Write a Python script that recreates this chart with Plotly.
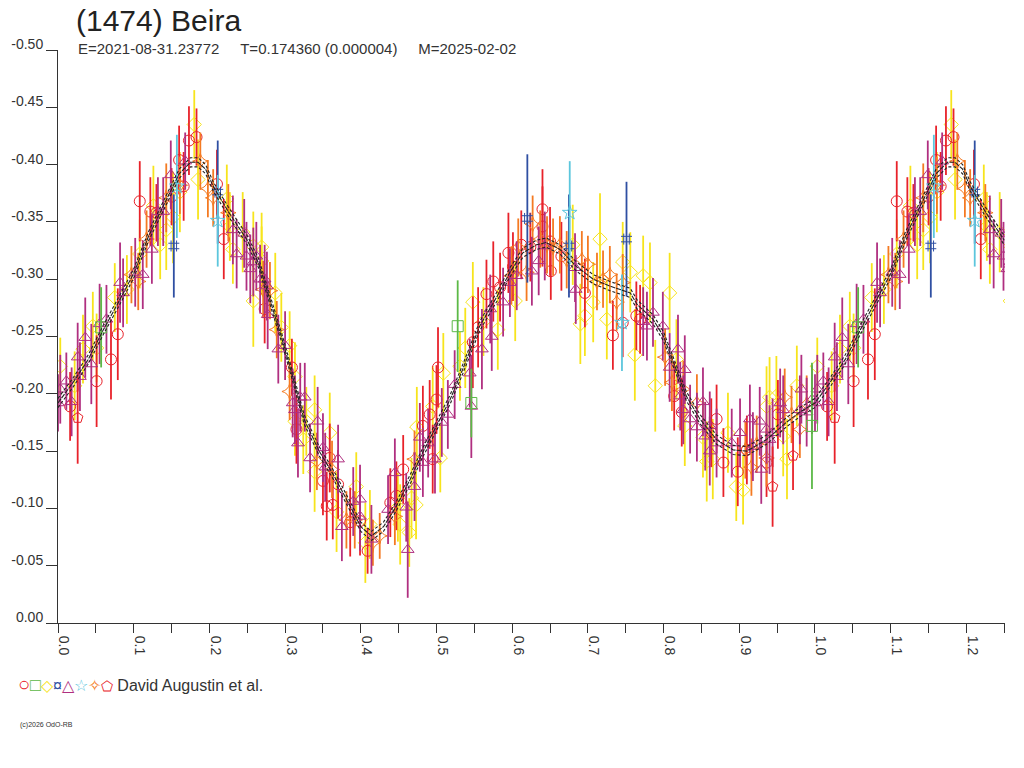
import plotly.graph_objects as go

# curva ajustada (fase, magnitude) e meia largura da banda tracejada
curve_phase = [0.0, 0.02, 0.04, 0.06, 0.08, 0.10, 0.12, 0.14, 0.16, 0.175, 0.185, 0.195, 0.205, 0.225,
               0.25, 0.265, 0.28, 0.295, 0.31, 0.325, 0.345, 0.365, 0.385, 0.40, 0.414, 0.43, 0.447,
               0.465, 0.482, 0.50, 0.518, 0.535, 0.557, 0.58, 0.597, 0.614, 0.632, 0.645, 0.663, 0.685,
               0.707, 0.729, 0.756, 0.765, 0.786, 0.80, 0.813, 0.83, 0.848, 0.87, 0.892, 0.91, 0.936,
               0.962, 0.98, 1.0]
curve_mag = [-0.192, -0.210, -0.230, -0.256, -0.280, -0.305, -0.338, -0.365, -0.392, -0.402, -0.402,
             -0.396, -0.381, -0.359, -0.334, -0.314, -0.283, -0.250, -0.215, -0.178, -0.150, -0.128,
             -0.103, -0.084, -0.076, -0.084, -0.102, -0.125, -0.149, -0.172, -0.195, -0.222, -0.259,
             -0.285, -0.306, -0.323, -0.330, -0.332, -0.326, -0.311, -0.300, -0.294, -0.288, -0.278,
             -0.265, -0.250, -0.227, -0.198, -0.178, -0.160, -0.151, -0.150, -0.160, -0.175, -0.184,
             -0.192]
curve_sigma = 0.004

# circulos vermelhos
red_phase = [0.016, 0.051, 0.070, 0.079, 0.108, 0.122, 0.130, 0.150, 0.160, 0.166, 0.173, 0.183, 0.210,
             0.219, 0.273, 0.309, 0.315, 0.350, 0.355, 0.359, 0.363, 0.370, 0.386, 0.399, 0.409, 0.439,
             0.447, 0.456, 0.482, 0.491, 0.495, 0.500, 0.502, 0.548, 0.555, 0.566, 0.575, 0.584, 0.595,
             0.601, 0.612, 0.624, 0.640, 0.640, 0.650, 0.651, 0.665, 0.696, 0.733, 0.746, 0.764, 0.769,
             0.814, 0.824, 0.863, 0.870, 0.879, 0.898, 0.910, 0.936, 0.951]
red_mag = [-0.189, -0.211, -0.230, -0.252, -0.368, -0.359, -0.358, -0.372, -0.404, -0.381, -0.421, -0.424,
           -0.383, -0.335, -0.274, -0.223, -0.169, -0.124, -0.102, -0.144, -0.103, -0.121, -0.088, -0.089,
           -0.063, -0.105, -0.111, -0.134, -0.172, -0.182, -0.143, -0.195, -0.223, -0.245, -0.258, -0.287,
           -0.298, -0.293, -0.323, -0.311, -0.330, -0.328, -0.361, -0.346, -0.333, -0.307, -0.320, -0.288,
           -0.251, -0.262, -0.268, -0.265, -0.198, -0.184, -0.166, -0.178, -0.140, -0.132, -0.151, -0.140,
           -0.182]
red_err = [0.030, 0.040, 0.035, 0.040, 0.035, 0.030, 0.025, 0.025, 0.030, 0.030, 0.030, 0.025, 0.030,
           0.035, 0.030, 0.025, 0.030, 0.030, 0.030, 0.030, 0.030, 0.030, 0.030, 0.030, 0.020, 0.030,
           0.030, 0.030, 0.035, 0.030, 0.030, 0.030, 0.035, 0.040, 0.035, 0.030, 0.035, 0.030, 0.035,
           0.030, 0.030, 0.030, 0.035, 0.035, 0.030, 0.025, 0.030, 0.030, 0.030, 0.030, 0.030, 0.030,
           0.030, 0.030, 0.030, 0.030, 0.030, 0.030, 0.030, 0.030, 0.030]

# quadrados verdes
green_phase = [0.057, 0.528, 0.546, 0.996]
green_mag = [-0.258, -0.259, -0.192, -0.172]
green_err = [0.035, 0.040, 0.030, 0.055]

# losangos amarelos
yellow_phase = [0.003, 0.022, 0.033, 0.046, 0.051, 0.075, 0.091, 0.108, 0.126, 0.135, 0.143, 0.152, 0.161,
                0.180, 0.185, 0.223, 0.227, 0.231, 0.244, 0.258, 0.258, 0.269, 0.269, 0.287, 0.295, 0.306,
                0.313, 0.313, 0.324, 0.328, 0.339, 0.339, 0.359, 0.368, 0.394, 0.406, 0.412, 0.449, 0.452,
                0.464, 0.467, 0.473, 0.474, 0.495, 0.505, 0.509, 0.531, 0.538, 0.548, 0.562, 0.581, 0.604,
                0.680, 0.690, 0.696, 0.707, 0.716, 0.725, 0.746, 0.756, 0.762, 0.773, 0.782, 0.789, 0.808,
                0.817, 0.828, 0.852, 0.857, 0.865, 0.885, 0.896, 0.905, 0.936, 0.940, 0.949, 0.958, 0.963,
                0.976]
yellow_mag = [-0.224, -0.207, -0.239, -0.259, -0.240, -0.284, -0.291, -0.322, -0.364, -0.330, -0.343,
              -0.354, -0.376, -0.435, -0.387, -0.370, -0.346, -0.326, -0.341, -0.329, -0.281, -0.328,
              -0.316, -0.288, -0.258, -0.242, -0.215, -0.176, -0.160, -0.176, -0.186, -0.132, -0.166,
              -0.097, -0.119, -0.070, -0.086, -0.101, -0.086, -0.079, -0.109, -0.103, -0.171, -0.189,
              -0.144, -0.218, -0.224, -0.240, -0.280, -0.263, -0.256, -0.281, -0.330, -0.261, -0.268,
              -0.280, -0.335, -0.265, -0.315, -0.306, -0.234, -0.303, -0.297, -0.207, -0.288, -0.230,
              -0.172, -0.162, -0.141, -0.143, -0.166, -0.119, -0.116, -0.189, -0.197, -0.198, -0.163,
              -0.143, -0.207]
yellow_err = [0.025, 0.030, 0.030, 0.030, 0.030, 0.030, 0.030, 0.030, 0.035, 0.030, 0.035, 0.040, 0.035,
              0.030, 0.035, 0.030, 0.030, 0.030, 0.035, 0.030, 0.040, 0.030, 0.030, 0.035, 0.030, 0.030,
              0.030, 0.030, 0.030, 0.030, 0.030, 0.035, 0.035, 0.035, 0.030, 0.035, 0.030, 0.030, 0.035,
              0.030, 0.035, 0.030, 0.035, 0.035, 0.030, 0.035, 0.030, 0.035, 0.035, 0.030, 0.035, 0.035,
              0.035, 0.035, 0.035, 0.035, 0.040, 0.035, 0.035, 0.035, 0.040, 0.035, 0.035, 0.040, 0.035,
              0.035, 0.035, 0.035, 0.035, 0.035, 0.035, 0.030, 0.030, 0.035, 0.035, 0.035, 0.035, 0.035,
              0.035]

# "hash" azul
blue_phase = [0.153, 0.211, 0.620, 0.675, 0.751]
blue_mag = [-0.329, -0.376, -0.353, -0.329, -0.335]
blue_err = [0.045, 0.045, 0.056, 0.045, 0.050]

# triangulos roxos
purple_phase = [0.000, 0.003, 0.011, 0.018, 0.026, 0.029, 0.036, 0.044, 0.055, 0.064, 0.082, 0.086, 0.102,
                0.112, 0.124, 0.132, 0.139, 0.149, 0.168, 0.231, 0.236, 0.246, 0.249, 0.254, 0.258, 0.262,
                0.267, 0.273, 0.276, 0.277, 0.291, 0.300, 0.310, 0.313, 0.317, 0.320, 0.326, 0.333, 0.343,
                0.350, 0.353, 0.370, 0.375, 0.390, 0.399, 0.399, 0.414, 0.436, 0.445, 0.460, 0.462, 0.471,
                0.478, 0.482, 0.489, 0.498, 0.507, 0.515, 0.524, 0.544, 0.546, 0.560, 0.571, 0.573, 0.588,
                0.597, 0.606, 0.626, 0.635, 0.643, 0.683, 0.684, 0.773, 0.778, 0.786, 0.799, 0.808, 0.819,
                0.822, 0.826, 0.828, 0.835, 0.844, 0.852, 0.855, 0.861, 0.861, 0.870, 0.890, 0.901, 0.914,
                0.918, 0.927, 0.929, 0.936, 0.940, 0.944, 0.954, 0.958, 0.980, 0.982, 0.989, 0.996]
purple_mag = [-0.192, -0.204, -0.211, -0.193, -0.232, -0.215, -0.249, -0.226, -0.261, -0.265, -0.297,
              -0.288, -0.306, -0.304, -0.326, -0.359, -0.359, -0.391, -0.403, -0.343, -0.322, -0.340,
              -0.320, -0.309, -0.315, -0.320, -0.300, -0.300, -0.294, -0.269, -0.239, -0.242, -0.192,
              -0.186, -0.157, -0.197, -0.197, -0.144, -0.176, -0.153, -0.136, -0.143, -0.084, -0.106,
              -0.108, -0.093, -0.073, -0.099, -0.131, -0.101, -0.064, -0.119, -0.162, -0.140, -0.157,
              -0.143, -0.175, -0.182, -0.208, -0.218, -0.189, -0.239, -0.274, -0.250, -0.280, -0.297,
              -0.303, -0.307, -0.316, -0.329, -0.310, -0.291, -0.263, -0.259, -0.271, -0.259, -0.223,
              -0.239, -0.198, -0.186, -0.221, -0.178, -0.171, -0.193, -0.163, -0.172, -0.150, -0.157,
              -0.157, -0.166, -0.178, -0.154, -0.176, -0.134, -0.169, -0.160, -0.166, -0.192, -0.186,
              -0.186, -0.204, -0.184, -0.195]
purple_err = [0.025, 0.030, 0.025, 0.030, 0.030, 0.030, 0.035, 0.035, 0.035, 0.030, 0.035, 0.030, 0.030,
              0.030, 0.030, 0.030, 0.030, 0.030, 0.025, 0.030, 0.030, 0.030, 0.030, 0.030, 0.030, 0.030,
              0.030, 0.030, 0.030, 0.030, 0.030, 0.030, 0.030, 0.030, 0.030, 0.030, 0.030, 0.030, 0.030,
              0.030, 0.030, 0.030, 0.030, 0.030, 0.030, 0.030, 0.030, 0.030, 0.030, 0.030, 0.042, 0.030,
              0.030, 0.030, 0.030, 0.030, 0.030, 0.030, 0.030, 0.030, 0.045, 0.035, 0.030, 0.030, 0.030,
              0.030, 0.030, 0.030, 0.030, 0.030, 0.030, 0.030, 0.030, 0.030, 0.030, 0.030, 0.030, 0.030,
              0.030, 0.030, 0.030, 0.030, 0.030, 0.030, 0.030, 0.030, 0.030, 0.030, 0.030, 0.030, 0.030,
              0.030, 0.030, 0.030, 0.030, 0.030, 0.030, 0.030, 0.030, 0.030, 0.030, 0.030, 0.030]

# estrelas ciano
cyan_phase = [0.157, 0.211, 0.676, 0.745]
cyan_mag = [-0.381, -0.351, -0.358, -0.262]
cyan_err = [0.045, 0.040, 0.045, 0.042]

# estrelas laranja de 4 pontas
orange_phase = [0.097, 0.106, 0.117, 0.143, 0.161, 0.188, 0.198, 0.205, 0.225, 0.271, 0.280, 0.289, 0.306,
                0.342, 0.362, 0.381, 0.392, 0.416, 0.425, 0.445, 0.471, 0.599, 0.608, 0.619, 0.627, 0.637,
                0.646, 0.654, 0.663, 0.672, 0.692, 0.700, 0.712, 0.720, 0.729, 0.738, 0.746, 0.802, 0.811,
                0.826, 0.844, 0.908, 0.916, 0.923, 0.936, 0.960, 0.969, 0.980, 0.989]
orange_mag = [-0.304, -0.298, -0.335, -0.371, -0.382, -0.403, -0.379, -0.371, -0.358, -0.291, -0.290,
              -0.256, -0.202, -0.141, -0.134, -0.090, -0.090, -0.070, -0.076, -0.093, -0.143, -0.303,
              -0.328, -0.306, -0.348, -0.335, -0.330, -0.328, -0.330, -0.317, -0.317, -0.313, -0.298,
              -0.300, -0.304, -0.280, -0.297, -0.232, -0.210, -0.204, -0.192, -0.151, -0.136, -0.156,
              -0.144, -0.197, -0.182, -0.169, -0.191]
orange_err = [0.025, 0.025, 0.025, 0.030, 0.025, 0.025, 0.025, 0.025, 0.025, 0.025, 0.025, 0.025, 0.025,
              0.025, 0.025, 0.025, 0.025, 0.020, 0.020, 0.025, 0.025, 0.025, 0.025, 0.025, 0.025, 0.025,
              0.025, 0.025, 0.025, 0.025, 0.025, 0.025, 0.025, 0.025, 0.025, 0.025, 0.025, 0.025, 0.025,
              0.025, 0.025, 0.025, 0.025, 0.025, 0.025, 0.025, 0.025, 0.025, 0.025]

# pentagonos vermelhos
pent_phase = [0.026, 0.944, 0.971]
pent_mag = [-0.179, -0.119, -0.146]
pent_err = [0.040, 0.035, 0.030]

y_tick_vals = [-0.50, -0.45, -0.40, -0.35, -0.30, -0.25, -0.20, -0.15, -0.10, -0.05, 0.00]
y_tick_text = ["-0.50", "-0.45", "-0.40", "-0.35", "-0.30", "-0.25", "-0.20", "-0.15", "-0.10", "-0.05", "0.00"]

PHASE_MAX = 1.251  # o grafico repete o comeco da curva depois da fase 1


def wrap(phase, mag, err=None):
    # repete os pontos do inicio da fase depois de 1.0
    idx = [i for i, p in enumerate(phase) if p + 1 <= PHASE_MAX + 0.01]
    x = list(phase) + [phase[i] + 1 for i in idx]
    y = list(mag) + [mag[i] for i in idx]
    if err is None:
        return x, y
    e = list(err) + [err[i] for i in idx]
    return x, y, e


fig = go.Figure()

series = [
    (yellow_phase, yellow_mag, yellow_err, "diamond-open", "#F7E41C"),
    (red_phase, red_mag, red_err, "circle-open", "#E8222A"),
    (orange_phase, orange_mag, orange_err, "star-diamond-open", "#F47A22"),
    (purple_phase, purple_mag, purple_err, "triangle-up-open", "#B02F80"),
    (green_phase, green_mag, green_err, "square-open", "#5CB947"),
    (blue_phase, blue_mag, blue_err, "hash-open", "#2F4FA2"),
    (cyan_phase, cyan_mag, cyan_err, "star-open", "#5CC6DD"),
    (pent_phase, pent_mag, pent_err, "pentagon-open", "#E8222A"),
]

for ph, mg, er, sym, col in series:
    x, y, e = wrap(ph, mg, er)
    fig.add_trace(go.Scatter(
        x=x, y=y, mode="markers",
        marker=dict(symbol=sym, size=11, color=col, line=dict(width=1, color=col)),
        error_y=dict(type="data", array=e, color=col, thickness=1.8, width=0),
        showlegend=False, hoverinfo="skip",
    ))

cx, cy = wrap(curve_phase, curve_mag)
fig.add_trace(go.Scatter(x=cx, y=[v - curve_sigma for v in cy], mode="lines",
                         line=dict(color="#222222", width=1.1, dash="3px,2px"), showlegend=False))
fig.add_trace(go.Scatter(x=cx, y=[v + curve_sigma for v in cy], mode="lines",
                         line=dict(color="#222222", width=1.1, dash="3px,2px"), showlegend=False))
fig.add_trace(go.Scatter(x=cx, y=cy, mode="lines",
                         line=dict(color="#222222", width=1.1, dash="5px,1px"), showlegend=False))

fonte = "Liberation Sans, Arial, sans-serif"

fig.update_layout(
    width=1024, height=768,
    margin=dict(l=58, r=19, t=50, b=145),
    paper_bgcolor="white", plot_bgcolor="white",
    font=dict(family=fonte, color="#333333"),
    title=dict(text="(1474) Beira", x=76 / 1024, xanchor="left", y=1 - 20 / 768, yanchor="middle",
               font=dict(size=30, color="#222222", family=fonte)),
)

fig.update_xaxes(
    range=[0, PHASE_MAX], showgrid=False, zeroline=False,
    showline=True, linecolor="#333333", linewidth=1,
    dtick=0.1, tick0=0, tickformat=".1f", tickangle=90,
    ticks="outside", ticklen=9, tickcolor="#333333",
    tickfont=dict(size=14, color="#333333"), ticklabelshift=6,
    minor=dict(dtick=0.05, tick0=0, ticks="outside", ticklen=9, tickcolor="#333333"),
)
fig.update_yaxes(
    range=[0, -0.5], showgrid=False, zeroline=False,
    showline=True, linecolor="#333333", linewidth=1,
    tickmode="array", tickvals=y_tick_vals, ticktext=y_tick_text,
    ticks="outside", ticklen=11, tickcolor="#333333",
    tickfont=dict(size=14, color="#333333"), ticklabelshift=6, ticklabelstandoff=0,
)

nb = "\u00a0"
fig.add_annotation(
    text="E=2021-08-31.23772" + nb * 5 + "T=0.174360 (0.000004)" + nb * 5 + "M=2025-02-02",
    xref="paper", yref="paper", x=(76 - 58) / 947, y=(623 - 48) / 573,
    xanchor="left", yanchor="middle", showarrow=False,
    font=dict(size=15, color="#333333", family=fonte),
)

simbolos = ("<span style='color:#E8222A;font-size:20px'>○</span>"
            "<span style='color:#5CB947;font-size:18px'>□</span>"
            "<span style='color:#F7E41C'>◇</span><span style='color:#2F4FA2'>¤</span>"
            "<span style='color:#B02F80'>△</span><span style='color:#5CC6DD'>☆</span>"
            "<span style='color:#F47A22'>✧</span><span style='color:#E8222A;font-size:14px'>⬠</span>")
fig.add_annotation(
    text=simbolos + " David Augustin et al.",
    xref="paper", yref="paper", x=(16 - 58) / 947, y=(623 - 684) / 573,
    xanchor="left", yanchor="middle", showarrow=False,
    font=dict(size=16, color="#333333", family=fonte),
)
fig.add_annotation(
    text="(c)2026 OdO-RB",
    xref="paper", yref="paper", x=(18 - 58) / 947, y=(623 - 725) / 573,
    xanchor="left", yanchor="middle", showarrow=False,
    font=dict(size=7, color="#333333", family=fonte),
)

fig.write_html("out.html", config={"displayModeBar": False},
               post_script="document.body.style.margin='0';")
